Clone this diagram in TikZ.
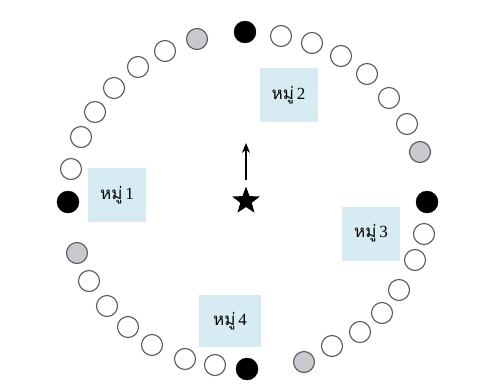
\documentclass[tikz,border=0pt]{standalone}
\usepackage{fontspec}
\newfontfamily\thaifont[Script=Thai]{Loma}
\newfontfamily\digitfont{Liberation Serif}
\usetikzlibrary{shapes.geometric,arrows.meta}
\definecolor{boxblue}{RGB}{214,236,242}
\definecolor{seatgray}{RGB}{200,200,206}
\definecolor{ringline}{RGB}{90,90,90}
\newcommand{\grouplabel}[1]{{\thaifont หมู่}\,{\digitfont #1}}
\tikzset{
  seat/.style={circle,draw=ringline,line width=1.1pt,fill=white,minimum size=21pt,inner sep=0pt},
  grayseat/.style={seat,fill=seatgray},
  blackseat/.style={circle,fill=black,draw=black,minimum size=22pt,inner sep=0pt},
  groupbox/.style={rectangle,fill=boxblue,minimum width=58pt,minimum height=54pt,inner sep=0pt,font=\fontsize{17}{19}\selectfont},
}
\begin{document}
\begin{tikzpicture}[x=1pt,y=-1pt]
\useasboundingbox (0,0) rectangle (482,383);
% boxes
\node[groupbox] (box1) at (117,195) {\grouplabel{1}};
\node[groupbox] (box2) at (288.5,95) {\grouplabel{2}};
\node[groupbox] (box3) at (371,233.5) {\grouplabel{3}};
\node[groupbox,minimum width=62pt,minimum height=52pt] (box4) at (230,321) {\grouplabel{4}};
% black seats
\node[blackseat] (b1) at (68,202) {};
\node[blackseat] (b2) at (245,32) {};
\node[blackseat] (b3) at (427,202) {};
\node[blackseat] (b4) at (247,369) {};
% gray seats
\node[grayseat] (g1) at (197,39) {};
\node[grayseat] (g2) at (420,152) {};
\node[grayseat] (g3) at (304,362) {};
\node[grayseat] (g4) at (77,253) {};
% open seats top-left
\node[seat] (a1) at (71,169) {};
\node[seat] (a2) at (81,137) {};
\node[seat] (a3) at (95,112) {};
\node[seat] (a4) at (114,88) {};
\node[seat] (a5) at (138,67) {};
\node[seat] (a6) at (165,51) {};
% open seats top-right
\node[seat] (c1) at (281,36) {};
\node[seat] (c2) at (312,43) {};
\node[seat] (c3) at (341,56) {};
\node[seat] (c4) at (367,74) {};
\node[seat] (c5) at (389,98) {};
\node[seat] (c6) at (407,124) {};
% open seats bottom-right
\node[seat] (d1) at (424,234) {};
\node[seat] (d2) at (415,260) {};
\node[seat] (d3) at (399,290) {};
\node[seat] (d4) at (382,313) {};
\node[seat] (d5) at (360,332) {};
\node[seat] (d6) at (332,346) {};
% open seats bottom-left
\node[seat] (e1) at (89,281) {};
\node[seat] (e2) at (107,306) {};
\node[seat] (e3) at (128,327) {};
\node[seat] (e4) at (152,345) {};
\node[seat] (e5) at (185,359) {};
\node[seat] (e6) at (215,365) {};
% star and arrow
\node[star,star points=5,star point ratio=2.4,fill=black,inner sep=0pt,minimum size=29pt] (star) at (246,201) {};
\coordinate (tip) at (246,143);
\draw[line width=1.3pt,-{Stealth[length=10pt,width=8pt]}] ([yshift=6pt]star.north) -- (tip);
\end{tikzpicture}
\end{document}
